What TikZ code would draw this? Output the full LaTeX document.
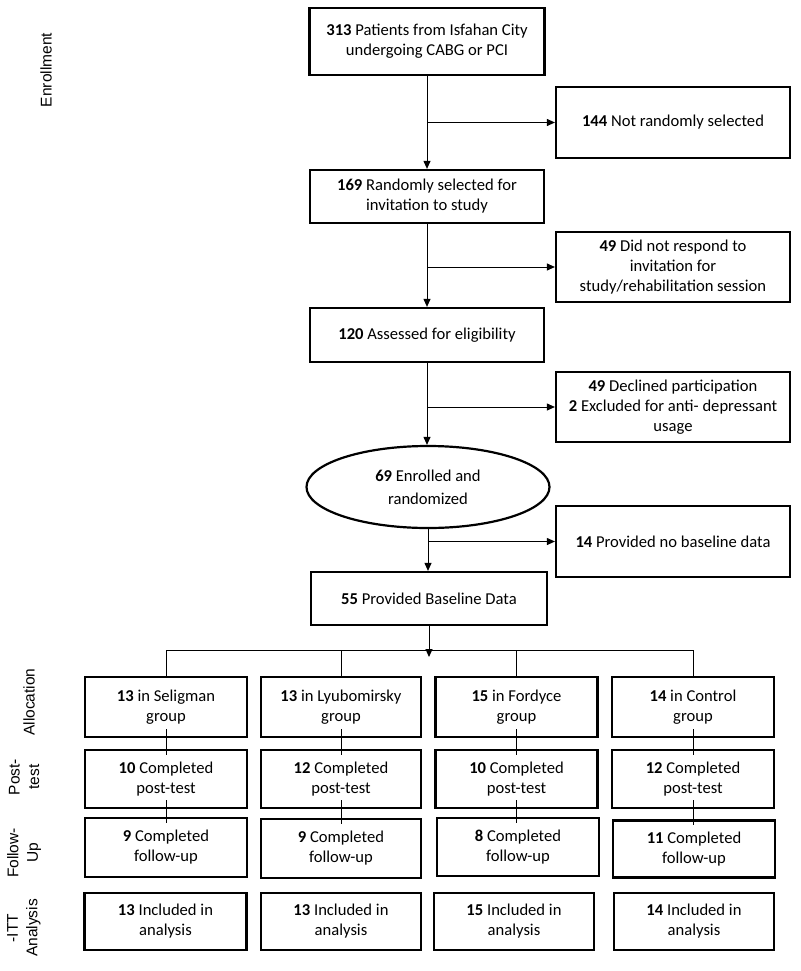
\documentclass[tikz,border=0pt]{standalone}
\usepackage{fontspec}
\setmainfont{Carlito}
\newfontfamily\arialf{Liberation Sans}
\usetikzlibrary{arrows.meta,shapes.geometric}
\begin{document}
\begin{tikzpicture}[x=1pt,y=-1pt,
  box/.style={draw,line width=2.2pt,align=center,inner sep=0pt,font=\fontsize{16.6}{20}\selectfont},
  arr/.style={line width=1pt,-{Triangle[length=8pt,width=7pt]}},
  ln/.style={line width=1pt},
  side/.style={rotate=90,align=center,font=\arialf\fontsize{15.5}{19.5}\selectfont}]
\useasboundingbox (0,0) rectangle (800,971);
% main column
\node[box,minimum width=235pt,minimum height=67pt] (top) at (427,41.5) {\textbf{313} Patients from Isfahan City\\undergoing CABG or PCI};
\node[box,minimum width=234pt,minimum height=71pt] (n144) at (673,122.5) {\textbf{144} Not randomly selected};
\node[box,minimum width=234pt,minimum height=53pt] (n169) at (427,196.5) {\textbf{169} Randomly selected for\\invitation to study};
\node[box,minimum width=234pt,minimum height=70pt] (n49) at (673,267) {\textbf{49} Did not respond to\\invitation for\\study/rehabilitation session};
\node[box,minimum width=234pt,minimum height=54pt] (n120) at (427,335) {\textbf{120} Assessed for eligibility};
\node[box,minimum width=234pt,minimum height=70pt] (n49b) at (673,407) {\textbf{49} Declined participation\\\textbf{2} Excluded for anti- depressant\\usage};
\node[box,ellipse,minimum width=243pt,minimum height=82pt,font=\fontsize{16.6}{23}\selectfont] (ell) at (428,487) {\textbf{69} Enrolled and\\randomized};
\node[box,minimum width=234pt,minimum height=71pt] (n14) at (673,541.5) {\textbf{14} Provided no baseline data};
\node[box,minimum width=236pt,minimum height=53pt] (n55) at (429,598.5) {\textbf{55} Provided Baseline Data};
% arrows
\draw[arr] (top.south) -- (top.south |- n169.north);
\draw[arr] (top.south |- n144.west) -- (n144.west);
\draw[arr] (n169.south) -- (n169.south |- n120.north);
\draw[arr] (n169.south |- n49.west) -- (n49.west);
\draw[arr] (n120.south) -- (n120.south |- ell.north);
\draw[arr] (n120.south |- n49b.west) -- (n49b.west);
\draw[arr] (ell.south) -- (ell.south |- n55.north);
\draw[arr] (ell.south |- n14.west) -- (n14.west);
% groups
\node[box,minimum width=162pt,minimum height=60pt] (a1) at (166,707) {\textbf{13} in Seligman\\group};
\node[box,minimum width=160pt,minimum height=60pt] (a2) at (341,707) {\textbf{13} in Lyubomirsky\\group};
\node[box,minimum width=162pt,minimum height=60pt] (a3) at (516.5,707) {\textbf{15} in Fordyce\\group};
\node[box,minimum width=162pt,minimum height=60pt] (a4) at (693,707) {\textbf{14} in Control\\group};
\node[box,minimum width=162pt,minimum height=58pt] (p1) at (166,779) {\textbf{10} Completed\\post-test};
\node[box,minimum width=160pt,minimum height=58pt] (p2) at (341,779) {\textbf{12} Completed\\post-test};
\node[box,minimum width=162pt,minimum height=58pt] (p3) at (516.5,779) {\textbf{10} Completed\\post-test};
\node[box,minimum width=162pt,minimum height=58pt] (p4) at (693,779) {\textbf{12} Completed\\post-test};
\node[box,minimum width=162pt,minimum height=59pt] (f1) at (166,847.5) {\textbf{9} Completed\\follow-up};
\node[box,minimum width=160pt,minimum height=59pt] (f2) at (341,848.5) {\textbf{9} Completed\\follow-up};
\node[box,minimum width=162pt,minimum height=58pt] (f3) at (518,847) {\textbf{8} Completed\\follow-up};
\node[box,minimum width=162pt,minimum height=57pt] (f4) at (694,849) {\textbf{11} Completed\\follow-up};
\node[box,minimum width=162pt,minimum height=57pt] (i1) at (165.5,921.5) {\textbf{13} Included in\\analysis};
\node[box,minimum width=160pt,minimum height=57pt] (i2) at (341,921.5) {\textbf{13} Included in\\analysis};
\node[box,minimum width=160pt,minimum height=57pt] (i3) at (514,921.5) {\textbf{15} Included in\\analysis};
\node[box,minimum width=160pt,minimum height=57pt] (i4) at (694,921.5) {\textbf{14} Included in\\analysis};
% allocation split
\coordinate (split) at (429,650);
\coordinate (tip) at (429,657);
\draw[arr] (n55.south) -- (tip);
\draw[ln] (a1.north |- split) -- (a4.north |- split);
\foreach \c in {a1,a2,a3,a4} \draw[ln] (\c.north |- split) -- (\c.north);
\foreach \u/\l in {a1/p1,a2/p2,a3/p3,a4/p4,p1/f1,p2/f2,p3/f3,p4/f4}
  \draw[ln] ([yshift=9pt]\u.south) -- ([yshift=-6pt]\u.south |- \l.north);
% side labels
\node[side] (sEn) at (46,70) {Enrollment};
\node[side] (sAl) at (29,702) {Allocation};
\node[side] (sPo) at (24,777) {Post-\\test};
\node[side] (sFo) at (24,853) {Follow-\\Up};
\node[side] (sIt) at (24,928) {-ITT\\Analysis};
\end{tikzpicture}
\end{document}
